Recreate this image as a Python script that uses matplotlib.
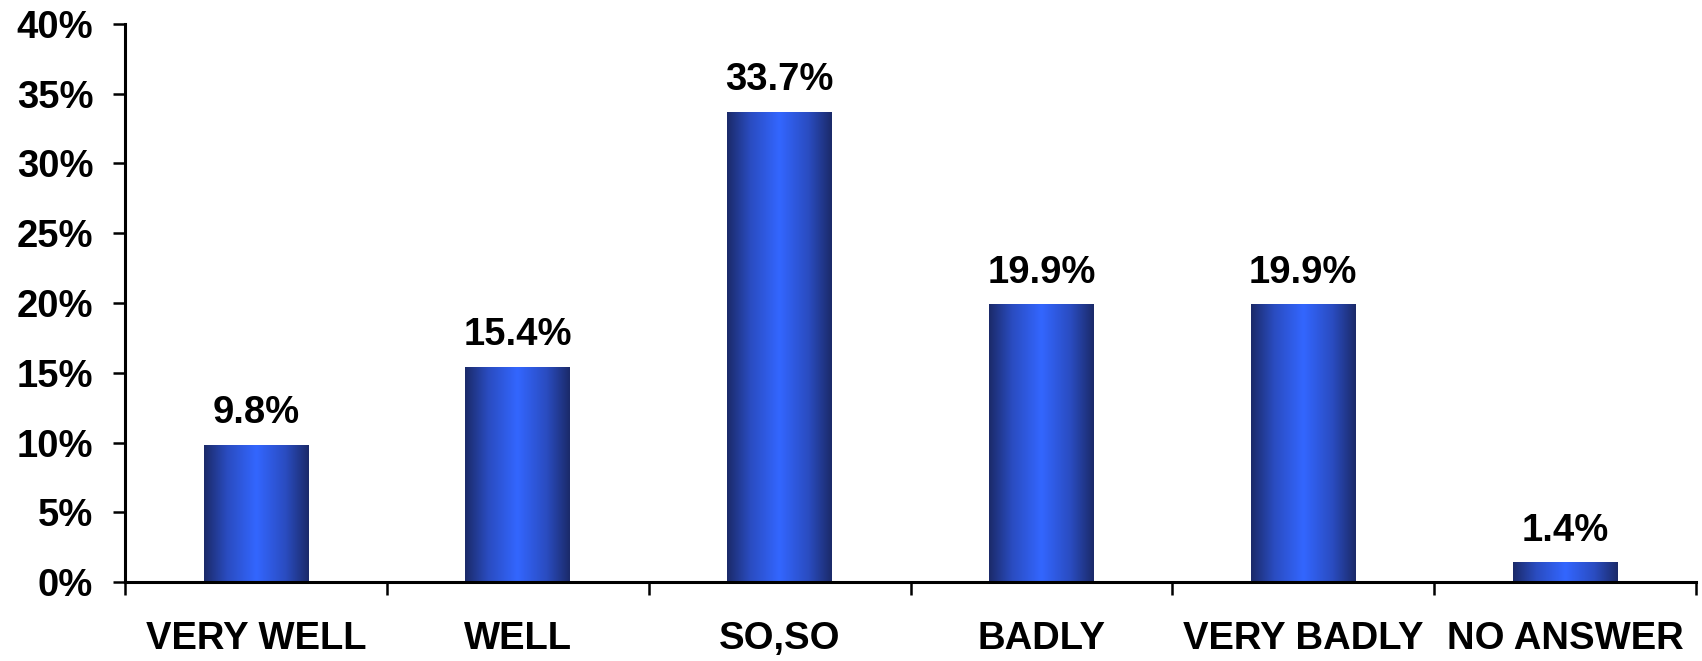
import numpy as np
import matplotlib
matplotlib.use("Agg")
import matplotlib.pyplot as plt
from matplotlib.colors import LinearSegmentedColormap
from matplotlib.ticker import FuncFormatter, MultipleLocator

categories = ["VERY WELL", "WELL", "SO,SO", "BADLY", "VERY BADLY", "NO ANSWER"]
values = [9.8, 15.4, 33.7, 19.9, 19.9, 1.4]
value_labels = ["9.8%", "15.4%", "33.7%", "19.9%", "19.9%", "1.4%"]

plt.rcParams['font.family'] = ['Liberation Sans', 'DejaVu Sans']
FS = 27.5

fig = plt.figure(figsize=(17.02, 6.61), dpi=100)
ax = fig.add_axes([0.0735, 0.1195, 0.923, 0.8442])

x = np.arange(len(categories))
bars = ax.bar(x, values, width=0.40, color='none', edgecolor='none', zorder=2)

cmap = LinearSegmentedColormap.from_list(
    "barg", [(0.0, "#1b2a69"), (0.22, "#2a4cc0"), (0.5, "#3366ff"),
             (0.78, "#2a4cc0"), (1.0, "#1b2a69")])
grad = np.linspace(0, 1, 256).reshape(1, -1)
for b in bars:
    x0, w, h = b.get_x(), b.get_width(), b.get_height()
    im = ax.imshow(grad, cmap=cmap, aspect='auto', extent=(x0, x0 + w, 0, h),
                   interpolation='bicubic', zorder=2)
    im.set_clip_path(b)

for b, lab in zip(bars, value_labels):
    ax.annotate(lab, (b.get_x() + b.get_width() / 2, b.get_height()),
                xytext=(0, 10), textcoords='offset points',
                ha='center', va='bottom', fontsize=FS, fontweight='bold')

ax.set_xlim(-0.5, len(categories) - 0.5)
ax.set_ylim(0, 40)
ax.yaxis.set_major_locator(MultipleLocator(5))
ax.yaxis.set_major_formatter(FuncFormatter(lambda v, p: f"{v:.0f}%"))

ax.set_xticks(np.arange(-0.5, len(categories), 1.0))
ax.set_xticklabels([])
ax.set_xticks(x, minor=True)
ax.set_xticklabels(categories, minor=True, fontsize=FS, fontweight='bold')
ax.tick_params(axis='x', which='major', direction='out', length=9, width=1.8)
ax.tick_params(axis='x', which='minor', length=0, pad=28)
ax.tick_params(axis='y', direction='out', length=9, width=1.8, pad=14,
               labelsize=FS)
for t in ax.get_yticklabels():
    t.set_fontweight('bold')

for s in ['top', 'right']:
    ax.spines[s].set_visible(False)
for s in ['left', 'bottom']:
    ax.spines[s].set_linewidth(2.2)

fig.savefig("out.png", dpi=100)
